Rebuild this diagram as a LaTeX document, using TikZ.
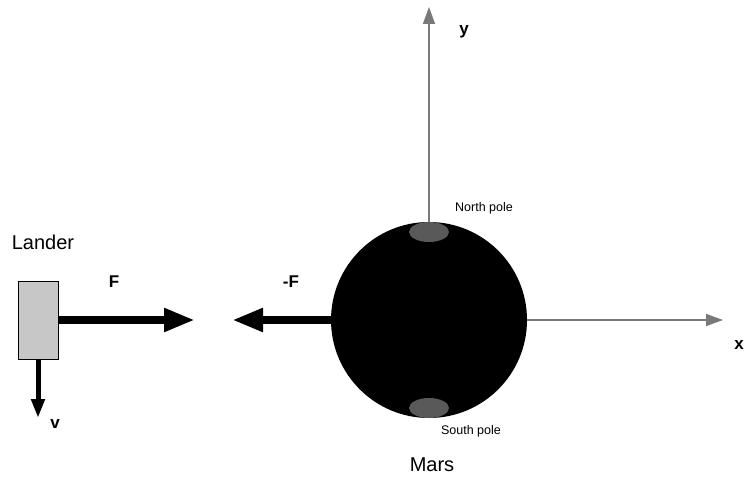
\documentclass[tikz,border=0pt]{standalone}
\usepackage{fontspec}
\setmainfont{Liberation Sans}
\usetikzlibrary{arrows.meta,shapes.geometric}
\begin{document}
\begin{tikzpicture}[x=1pt,y=-1pt,
  axis/.style={draw=gray!95!black, line width=1.6pt, -{Triangle[length=17pt,width=12pt]}},
  force/.style={line width=8pt, -{Triangle[length=31pt,width=22pt]}},
  vel/.style={line width=5pt, -{Triangle[length=19pt,width=13pt]}},
  pole/.style={fill=black!65, draw=none},
  lbl/.style={font=\fontsize{20}{22}\selectfont, inner sep=0pt},
  small/.style={font=\fontsize{12.5}{14}\selectfont, inner sep=0pt},
  bold/.style={font=\fontsize{17}{19}\selectfont\bfseries, inner sep=0pt}]
\useasboundingbox (0,0) rectangle (744,478);
% Mars
\node[circle, fill=black, minimum size=196pt, inner sep=0pt] (mars) at (429,320) {};
\node[pole, ellipse, minimum width=40pt, minimum height=20pt, inner sep=0pt] (np) at (429,232) {};
\node[pole, ellipse, minimum width=40pt, minimum height=20pt, inner sep=0pt] (sp) at (429,408) {};
% axes
\coordinate (ytip) at (429,7);
\coordinate (xtip) at (723,320);
\draw[axis] (mars.north) -- (ytip);
\draw[axis] (mars.east) -- (xtip);
\node[bold] (ylab) at (464,32) {y};
\node[bold, anchor=east] (xlab) at (744,345) {x};
\node[small] (nplab) at (484,208) {North pole};
\node[small] (splab) at (471,431) {South pole};
\node[lbl] (marslab) at (432,465) {Mars};
% Lander
\node[draw=black, fill=black!22, line width=0.8pt, minimum width=40pt, minimum height=78pt, inner sep=0pt] (lander) at (38,320) {};
\node[lbl] (landerlab) at (43,242) {Lander};
\coordinate (ftip) at (195,320);
\coordinate (mftip) at (232,320);
\coordinate (vtip) at (38,418);
\draw[force] (lander.east) -- (ftip);
\draw[force] (mars.west) -- (mftip);
\draw[vel] (lander.south) -- (vtip);
\node[bold] (flab) at (114,282) {F};
\node[bold] (mflab) at (291,282) {-F};
\node[bold] (vlab) at (55,424) {v};
\end{tikzpicture}
\end{document}
